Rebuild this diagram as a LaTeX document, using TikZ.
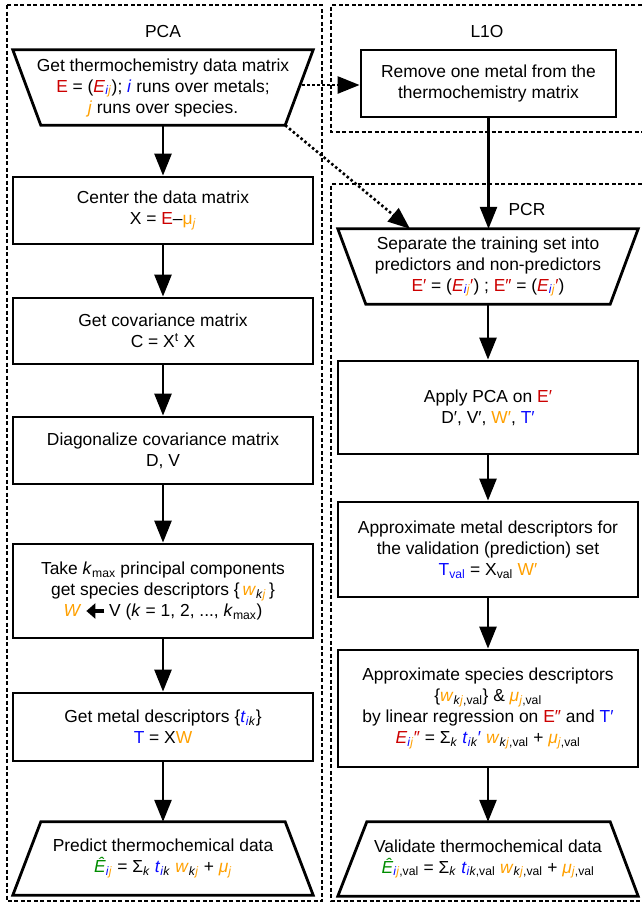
\documentclass[tikz,border=0pt]{standalone}
\usepackage{fontspec}
\setmainfont{Liberation Sans}
\usetikzlibrary{arrows.meta,calc}
\definecolor{myred}{RGB}{204,0,0}
\definecolor{myblue}{RGB}{10,10,255}
\definecolor{myorange}{RGB}{255,160,0}
\definecolor{mygreen}{RGB}{0,140,0}
\newcommand\cR[1]{\textcolor{myred}{#1}}
\newcommand\cB[1]{\textcolor{myblue}{#1}}
\newcommand\cO[1]{\textcolor{myorange}{#1}}
\newcommand\cG[1]{\textcolor{mygreen}{#1}}
\newcommand\sIJ{\textsubscript{\cB{\textit{i}}\cO{\textit{j}}}}
\newcommand\larr{\tikz[baseline=-0.6ex]\draw[line width=4pt,-{Triangle[length=9pt,width=15pt]}] (18pt,0pt)--(0pt,0pt);}
\tikzset{
  every node/.style={font=\fontsize{17.4}{21}\selectfont},
  stepbox/.style={draw, line width=2.8pt, align=center, minimum width=300pt, inner sep=0pt},
  trapbox/.style={align=center, minimum width=300pt, inner sep=0pt},
  trapline/.style={line width=2.8pt, line join=miter},
  arr/.style={line width=2.6pt, -{Triangle[length=22pt,width=17pt]}},
  dotarr/.style={line width=2.6pt, dash pattern=on 2.5pt off 2.5pt, -{Triangle[length=22pt,width=17pt]}},
  frame/.style={line width=1.5pt, dash pattern=on 4pt off 2.5pt},
  lbl/.style={inner sep=0pt}
}
\begin{document}
\begin{tikzpicture}[x=1pt,y=-1pt]
\useasboundingbox (0,0) rectangle (642,906);
% frames
\draw[frame] (7,5) rectangle (322,901);
\draw[frame] (648,5) -- (331,5) -- (331,132) -- (648,132);
\draw[frame] (648,184) -- (331,184) -- (331,901) -- (648,901);
% labels
\node[lbl] (lpca) at (163,32) {PCA};
\node[lbl] (ll1o) at (487,32) {L1O};
\node[lbl] (lpcr) at (527,210) {PCR};
% left column
\node[trapbox, minimum height=75pt] (t1) at (163,87.5) {Get thermochemistry data matrix\\
\cR{E} = (\cR{\textit{E}}\sIJ); \cB{\textit{i}} runs over metals;\\
\cO{\textit{j}} runs over species.};
\draw[trapline] (t1.north west) -- (t1.north east) -- ([xshift=-28pt]t1.south east) -- ([xshift=28pt]t1.south west) -- cycle;
\node[stepbox, minimum height=67pt] (b2) at (163,210.5) {Center the data matrix\\ X = \cR{E}–\cO{μ\textsubscript{\textit{j}}}};
\node[stepbox, minimum height=66pt] (b3) at (163,331) {Get covariance matrix\\ C = X\textsuperscript{t} X};
\node[stepbox, minimum height=67pt] (b4) at (163,450.5) {Diagonalize covariance matrix\\ D, V};
\node[stepbox, minimum height=94pt] (b5) at (163,591) {Take \textit{k}\textsubscript{max} principal components\\ get species descriptors \{\,\cO{\textit{w}}\textsubscript{\textit{k}\cO{\textit{j}}}\,\}\\ \cO{\textit{W}}\,\larr\,V (\textit{k} = 1, 2, ..., \textit{k}\textsubscript{max})};
\node[stepbox, minimum height=68pt] (b6) at (163,727) {Get metal descriptors \{\cB{\textit{t}}\textsubscript{\cB{\textit{i}}\textit{k}}\}\\ \cB{T} = X\cO{W}};
\node[trapbox, minimum height=73pt] (t7) at (163,858.5) {Predict thermochemical data\\ \cG{\textit{Ê}}\sIJ{} = Σ\textsubscript{\textit{k}} \cB{\textit{t}}\textsubscript{\cB{\textit{i}}\textit{k}} \cO{\textit{w}}\textsubscript{\textit{k}\cO{\textit{j}}} + \cO{\textit{μ}\textsubscript{\textit{j}}}};
\draw[trapline] ([xshift=28pt]t7.north west) -- ([xshift=-28pt]t7.north east) -- (t7.south east) -- (t7.south west) -- cycle;
% right column
\node[stepbox, minimum width=255pt, minimum height=67pt] (r1) at (488.5,83.5) {Remove one metal from the\\ thermochemistry matrix};
\node[trapbox, minimum height=75pt] (r2) at (488,266.5) {Separate the training set into\\ predictors and non-predictors\\ \cR{E′} = (\cR{\textit{E}}\sIJ\cR{′}) ; \cR{E″} = (\cR{\textit{E}}\sIJ\cR{′})};
\draw[trapline] (r2.north west) -- (r2.north east) -- ([xshift=-28pt]r2.south east) -- ([xshift=28pt]r2.south west) -- cycle;
\node[stepbox, minimum height=93pt] (r3) at (488,407.5) {Apply PCA on \cR{E′}\\ D′, V′, \cO{W′}, \cB{T′}};
\node[stepbox, minimum height=95pt] (r4) at (488,549.5) {Approximate metal descriptors for\\ the validation (prediction) set\\ \cB{T\textsubscript{val}} = X\textsubscript{val} \cO{W′}};
\node[stepbox, minimum height=117pt] (r5) at (488,708.5) {Approximate species descriptors\\ \{\cO{\textit{w}}\textsubscript{\textit{k}\cO{\textit{j}},val}\} \& \cO{\textit{μ}}\textsubscript{\cO{\textit{j}},val}\\ by linear regression on \cR{E″} and \cB{T′}\\ \cR{\textit{E}}\sIJ\cR{″} = Σ\textsubscript{\textit{k}} \cB{\textit{t}}\textsubscript{\cB{\textit{i}}\textit{k}}\cB{′} \cO{\textit{w}}\textsubscript{\textit{k}\cO{\textit{j}},val} + \cO{\textit{μ}}\textsubscript{\cO{\textit{j}},val}};
\node[trapbox, minimum height=74pt] (r6) at (488,859) {Validate thermochemical data\\ \cG{\textit{Ê}}\textsubscript{\cB{\textit{i}}\cO{\textit{j}},val} = Σ\textsubscript{\textit{k}} \cB{\textit{t}}\textsubscript{\cB{\textit{i}}\textit{k},val} \cO{\textit{w}}\textsubscript{\textit{k}\cO{\textit{j}},val} + \cO{\textit{μ}}\textsubscript{\cO{\textit{j}},val}};
\draw[trapline] ([xshift=29pt]r6.north west) -- ([xshift=-28pt]r6.north east) -- (r6.south east) -- (r6.south west) -- cycle;
% arrows
\draw[arr] (t1.south) -- (b2.north);
\draw[arr] (b2.south) -- (b3.north);
\draw[arr] (b3.south) -- (b4.north);
\draw[arr] (b4.south) -- (b5.north);
\draw[arr] (b5.south) -- (b6.north);
\draw[arr] (b6.south) -- (t7.north);
\draw[arr] (r1.south) -- (r1.south |- r2.north);
\draw[arr] (r2.south) -- (r3.north);
\draw[arr] (r3.south) -- (r4.north);
\draw[arr] (r4.south) -- (r5.north);
\draw[arr] (r5.south) -- (r6.north);
% dotted arrows
\coordinate (d1) at (302,85);
\coordinate (d2) at ([xshift=-28pt]t1.south east);
\coordinate (d3) at ([xshift=-78pt]r2.north);
\draw[dotarr] (d1) -- (d1 -| r1.west);
\draw[dotarr] (d2) -- (d3);
\end{tikzpicture}
\end{document}
